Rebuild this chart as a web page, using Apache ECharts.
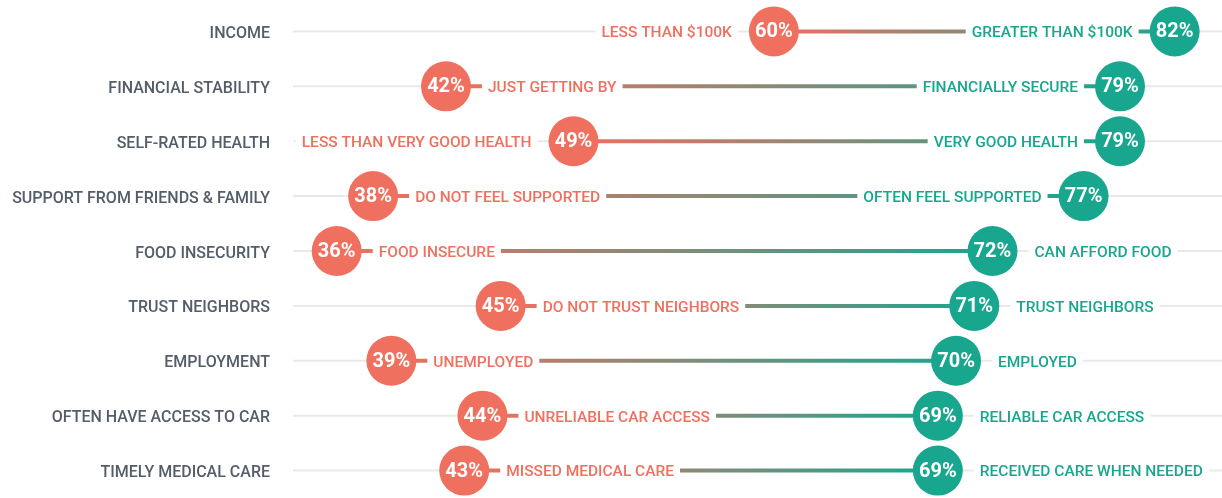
<!DOCTYPE html>
<html>
<head>
<meta charset="utf-8">
<script src="https://cdn.jsdelivr.net/npm/echarts@6/dist/echarts.min.js"></script>
<style>
  html, body { margin: 0; padding: 0; background: #fff; }
  #chart { width: 1222px; height: 498px; }
</style>
</head>
<body>
<div id="chart"></div>
<script>
const categories = ['INCOME', 'FINANCIAL STABILITY', 'SELF-RATED HEALTH', 'SUPPORT FROM FRIENDS & FAMILY',
  'FOOD INSECURITY', 'TRUST NEIGHBORS', 'EMPLOYMENT', 'OFTEN HAVE ACCESS TO CAR', 'TIMELY MEDICAL CARE'];
const lowValues = [60, 42, 49, 38, 36, 45, 39, 44, 43];
const highValues = [82, 79, 79, 77, 72, 71, 70, 69, 69];
const lowLabels = ['LESS THAN $100K', 'JUST GETTING BY', 'LESS THAN VERY GOOD HEALTH', 'DO NOT FEEL SUPPORTED',
  'FOOD INSECURE', 'DO NOT TRUST NEIGHBORS', 'UNEMPLOYED', 'UNRELIABLE CAR ACCESS', 'MISSED MEDICAL CARE'];
const highLabels = ['GREATER THAN $100K', 'FINANCIALLY SECURE', 'VERY GOOD HEALTH', 'OFTEN FEEL SUPPORTED',
  'CAN AFFORD FOOD', 'TRUST NEIGHBORS', 'EMPLOYED', 'RELIABLE CAR ACCESS', 'RECEIVED CARE WHEN NEEDED'];

const RED = '#f0705f';
const GREEN = '#19a68f';
const FONT_FAMILY = 'Roboto';
const LABEL_SIZE = 15.5;

// measure label widths so a label goes outside its dot when there is room, inside otherwise
const measureCtx = document.createElement('canvas').getContext('2d');
measureCtx.font = '500 ' + LABEL_SIZE + 'px ' + FONT_FAMILY;
const textWidth = (s) => measureCtx.measureText(s).width;

const chart = echarts.init(document.getElementById('chart'));

const R = 25;     // dot radius
const GAP = 42;   // dot centre -> text edge
const PAD = 6;    // white box round the labels

function label(x, y, text, color, align) {
  return {
    type: 'text',
    x: align === 'left' ? x - PAD : x + PAD,
    y: y + 2,
    style: {
      text: text,
      fill: color,
      fontFamily: FONT_FAMILY,
      fontSize: LABEL_SIZE,
      fontWeight: 500,
      align: align,
      verticalAlign: 'middle',
      backgroundColor: '#fff',
      padding: [3, PAD]
    }
  };
}

function pct(x, y, value) {
  return {
    type: 'text', x: x, y: y + 1,
    style: { text: value + '%', fill: '#fff', fontFamily: FONT_FAMILY, fontSize: 20,
      fontWeight: 'bold', align: 'center', verticalAlign: 'middle' }
  };
}

function renderItem(params, api) {
  const i = api.value(0);
  const lo = api.coord([api.value(1), i]);
  const hi = api.coord([api.value(2), i]);
  const y = lo[1];
  const cs = params.coordSys;
  const left = cs.x, right = cs.x + cs.width;

  const loOutside = lo[0] - GAP - textWidth(lowLabels[i]) >= left;
  const hiOutside = hi[0] + GAP + textWidth(highLabels[i]) <= right;

  return {
    type: 'group',
    children: [
      { type: 'line', shape: { x1: left, y1: y, x2: right, y2: y },
        style: { stroke: '#e9e9e9', lineWidth: 2 } },
      { type: 'line', shape: { x1: lo[0], y1: y, x2: hi[0], y2: y },
        style: {
          lineWidth: 4,
          stroke: new echarts.graphic.LinearGradient(0, 0, 1, 0, [
            { offset: 0, color: RED },
            { offset: 1, color: GREEN }
          ])
        } },
      loOutside
        ? label(lo[0] - GAP, y, lowLabels[i], RED, 'right')
        : label(lo[0] + GAP, y, lowLabels[i], RED, 'left'),
      hiOutside
        ? label(hi[0] + GAP, y, highLabels[i], GREEN, 'left')
        : label(hi[0] - GAP, y, highLabels[i], GREEN, 'right'),
      { type: 'circle', shape: { cx: lo[0], cy: y, r: R }, style: { fill: RED } },
      { type: 'circle', shape: { cx: hi[0], cy: y, r: R }, style: { fill: GREEN } },
      pct(lo[0], y, api.value(1)),
      pct(hi[0], y, api.value(2))
    ]
  };
}

const option = {
  backgroundColor: '#fff',
  animation: false,
  grid: { left: 293, right: 0, top: 4, height: 497 },
  xAxis: { type: 'value', min: 33.6, max: 84.6, show: false },
  yAxis: {
    type: 'category',
    data: categories,
    inverse: true,
    axisLine: { show: false },
    axisTick: { show: false },
    splitLine: { show: false },
    axisLabel: {
      margin: 23,
      formatter: (v) => '{c|' + v + '}',
      rich: {
        c: {
          color: '#545d69',
          fontFamily: FONT_FAMILY,
          fontSize: 16,
          fontWeight: 500,
          padding: [5, 0, 0, 0]
        }
      }
    }
  },
  series: [{
    type: 'custom',
    renderItem: renderItem,
    encode: { x: [1, 2], y: 0 },
    data: categories.map((c, i) => [i, lowValues[i], highValues[i]])
  }]
};

chart.setOption(option);
</script>
</body>
</html>
